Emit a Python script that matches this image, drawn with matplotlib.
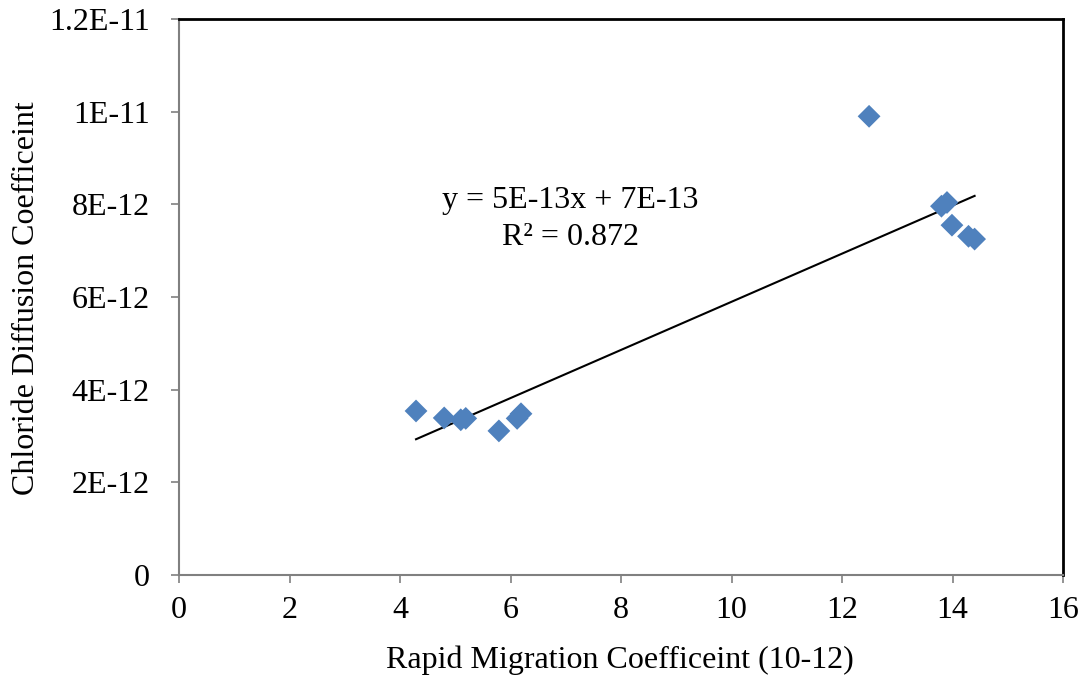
import numpy as np
import matplotlib
matplotlib.use("Agg")
import matplotlib.pyplot as plt
from matplotlib.ticker import FixedLocator

plt.rcParams['font.family'] = ['Liberation Serif', 'DejaVu Serif']

rmt = [4.29, 4.80, 5.10, 5.19, 5.79, 6.12, 6.19, 12.49, 13.80, 13.90, 13.99, 14.29, 14.40]
dcl = [3.54e-12, 3.39e-12, 3.35e-12, 3.38e-12, 3.11e-12, 3.38e-12, 3.48e-12,
       9.90e-12, 7.96e-12, 8.04e-12, 7.55e-12, 7.31e-12, 7.25e-12]
xticks = [0, 2, 4, 6, 8, 10, 12, 14, 16]
yticks = [0, 2e-12, 4e-12, 6e-12, 8e-12, 1e-11, 1.2e-11]
ytick_labels = ['0', '2E-12', '4E-12', '6E-12', '8E-12', '1E-11', '1.2E-11']
eq_line1 = "y = 5E-13x + 7E-13"
eq_line2 = "R\u00b2 = 0.872"

W, H = 1091, 679
fs = 23
fig = plt.figure(figsize=(W / 100, H / 100), dpi=100)
ax = fig.add_axes([179 / W, 1 - 575 / H, (1063 - 179) / W, (575 - 19) / H])

x = np.array(rmt)
y = np.array(dcl)
slope, intercept = np.polyfit(x, y, 1)
xl = np.array([x.min(), x.max()])
ax.plot(xl, slope * xl + intercept, color='black', lw=1.5, zorder=2)
ax.scatter(x, y, marker='D', s=135, color='#4F81BD', edgecolors='none', zorder=3)

ax.set_xlim(0, 16)
ax.set_ylim(0, 1.2e-11)
ax.xaxis.set_major_locator(FixedLocator(xticks))
ax.set_xticklabels([str(t) for t in xticks])
ax.yaxis.set_major_locator(FixedLocator(yticks))
ax.set_yticklabels(ytick_labels)
ax.tick_params(axis='both', labelsize=fs, color='#808080', length=6, width=1.2, direction='out')
ax.tick_params(axis='x', pad=9)
ax.tick_params(axis='y', pad=15)

for s in ['left', 'bottom']:
    ax.spines[s].set_color('#808080')
    ax.spines[s].set_linewidth(1.5)
for s in ['top', 'right']:
    ax.spines[s].set_color('black')
    ax.spines[s].set_linewidth(2)

fig.text(620 / W, 1 - 668 / H, 'Rapid Migration Coefficeint (10-12)', fontsize=fs,
         ha='center', va='baseline')
fig.text(27 / W, 1 - 298 / H, 'Chloride Diffusion Coefficeint', fontsize=fs,
         ha='center', va='center', rotation=90)

fig.text(570 / W, 1 - 208 / H, eq_line1, fontsize=fs, ha='center', va='baseline')
fig.text(570 / W, 1 - 245 / H, eq_line2, fontsize=fs, ha='center', va='baseline')

fig.savefig('out.png', dpi=100)
